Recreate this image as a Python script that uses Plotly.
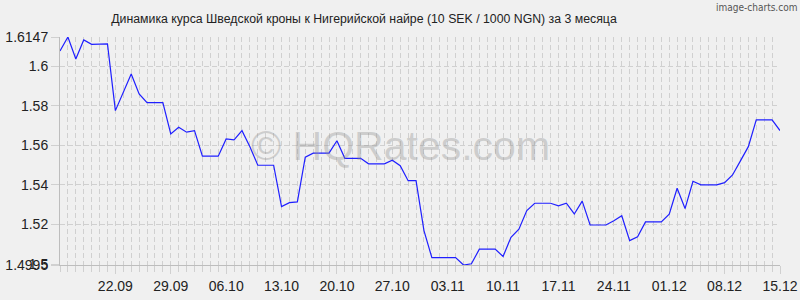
import plotly.graph_objects as go
import pandas as pd

# ---- data ----
dates = pd.date_range("2025-09-15", "2025-12-15", freq="D").strftime("%Y-%m-%d").tolist()
rates = [
    1.6076, 1.6147, 1.6036, 1.6132, 1.6110, 1.6112, 1.6112,
    1.5775, 1.5868, 1.5960, 1.5859, 1.5815, 1.5815, 1.5815,
    1.5657, 1.5691, 1.5666, 1.5674, 1.5545, 1.5545, 1.5545,
    1.5632, 1.5627, 1.5674, 1.5593, 1.5499, 1.5499, 1.5499,
    1.5290, 1.5310, 1.5314, 1.5540, 1.5560, 1.5560, 1.5560,
    1.5623, 1.5534, 1.5534, 1.5534, 1.5506, 1.5506, 1.5506,
    1.5524, 1.5497, 1.5421, 1.5421, 1.5169, 1.5032, 1.5032,
    1.5032, 1.5032, 1.4995, 1.5001, 1.5075, 1.5075, 1.5075,
    1.5038, 1.5135, 1.5176, 1.5270, 1.5307, 1.5307, 1.5307,
    1.5294, 1.5307, 1.5253, 1.5318, 1.5197, 1.5197, 1.5197,
    1.5219, 1.5244, 1.5118, 1.5138, 1.5213, 1.5213, 1.5213,
    1.5252, 1.5383, 1.5280, 1.5418, 1.5400, 1.5400, 1.5400,
    1.5411, 1.5450, 1.5521, 1.5593, 1.5728, 1.5728, 1.5728,
    1.5674,
]
x_tick_dates = ["2025-09-22", "2025-09-29", "2025-10-06", "2025-10-13", "2025-10-20",
                "2025-10-27", "2025-11-03", "2025-11-10", "2025-11-17", "2025-11-24",
                "2025-12-01", "2025-12-08", "2025-12-15"]
x_tick_text = ["22.09", "29.09", "06.10", "13.10", "20.10", "27.10", "03.11",
               "10.11", "17.11", "24.11", "01.12", "08.12", "15.12"]
y_tick_vals = [1.4995, 1.5, 1.52, 1.54, 1.56, 1.58, 1.6, 1.6147]
y_tick_text = ["1.4995", "1.5", "1.52", "1.54", "1.56", "1.58", "1.6", "1.6147"]
y_min, y_max = 1.4995, 1.6147

title_text = "Динамика курса Шведской кроны к Нигерийской найре (10 SEK / 1000 NGN) за 3 месяца"

BG = "#f0f0f0"
GRID = "#d0d0d0"
FONT = "Liberation Sans, Arial, sans-serif"
NARROW = "DejaVu Sans Condensed, sans-serif"

fig = go.Figure()
fig.add_trace(go.Scatter(
    x=dates, y=rates, mode="lines",
    line=dict(color="#1f1fff", width=1.2),
    hoverinfo="x+y", showlegend=False,
))

fig.update_layout(
    width=800, height=300,
    margin=dict(l=60, r=20, t=37, b=35),
    paper_bgcolor=BG, plot_bgcolor=BG,
    font=dict(family=FONT, size=14, color="#222222"),
    title=dict(text=title_text, x=364 / 800, xanchor="center",
               y=1 - 19 / 300, yanchor="middle",
               font=dict(family=FONT, size=12.3, color="#222222")),
    xaxis=dict(
        type="date", automargin=False,
        range=[dates[0], dates[-1]],
        tickvals=x_tick_dates, ticktext=x_tick_text,
        showgrid=True, gridcolor=GRID, griddash="5px,3px", gridwidth=1,
        ticks="outside", ticklen=8, tickcolor=GRID,
        showline=True, linecolor="#bdbdbd", linewidth=1,
        zeroline=False,
        minor=dict(dtick=86400000, showgrid=True, gridcolor=GRID,
                   griddash="5px,3px", ticks="outside", ticklen=6, tickcolor=GRID),
        tickfont=dict(family=FONT, size=14, color="#222222"),
    ),
    yaxis=dict(
        automargin=False,
        range=[y_min, y_max],
        tickvals=y_tick_vals, ticktext=y_tick_text,
        showgrid=True, gridcolor=GRID, griddash="5px,3px", gridwidth=1,
        ticks="outside", ticklen=8, tickcolor=GRID,
        showline=True, linecolor="#bdbdbd", linewidth=1,
        zeroline=False,
        tickfont=dict(family=FONT, size=14, color="#222222"),
    ),
    annotations=[
        dict(text="© HQRates.com", xref="paper", yref="paper",
             x=(400 - 60) / 720, y=(265 - 146) / 228, xanchor="center", yanchor="middle",
             showarrow=False, font=dict(family=FONT, size=41, color="rgba(140,140,140,0.35)")),
        dict(text="image-charts.com", xref="paper", yref="paper",
             x=(799 - 60) / 720, y=(265 - 8) / 228, xanchor="right", yanchor="middle",
             showarrow=False, font=dict(family=NARROW, size=10, color="#555555")),
    ],
)

fig.write_html("out.html")
